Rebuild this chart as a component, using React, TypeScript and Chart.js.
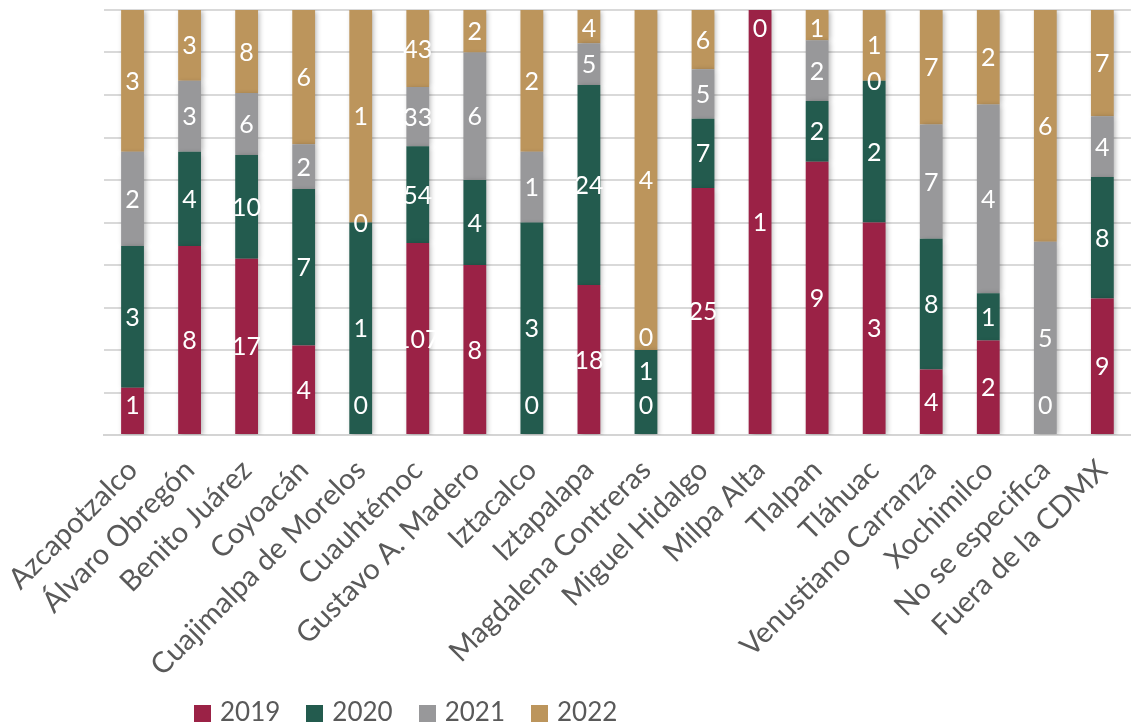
import React, { useEffect, useRef } from "react";
import { Chart, registerables } from "chart.js";

Chart.register(...registerables);

const categories = [
  "Azcapotzalco",
  "Álvaro Obregón",
  "Benito Juárez",
  "Coyoacán",
  "Cuajimalpa de Morelos",
  "Cuauhtémoc",
  "Gustavo A. Madero",
  "Iztacalco",
  "Iztapalapa",
  "Magdalena Contreras",
  "Miguel Hidalgo",
  "Milpa Alta",
  "Tlalpan",
  "Tláhuac",
  "Venustiano Carranza",
  "Xochimilco",
  "No se especifica",
  "Fuera de la CDMX",
];

const years = ["2019", "2020", "2021", "2022"];
const v2019: (number | null)[] = [1, 8, 17, 4, 0, 107, 8, 0, 18, 0, 25, 1, 9, 3, 4, 2, 0, 9];
const v2020: (number | null)[] = [3, 4, 10, 7, 1, 54, 4, 3, 24, 1, 7, null, 2, 2, 8, 1, null, 8];
const v2021: (number | null)[] = [2, 3, 6, 2, 0, 33, 6, 1, 5, 0, 5, null, 2, 0, 7, 4, 5, 4];
const v2022: (number | null)[] = [3, 3, 8, 6, 1, 43, 2, 2, 4, 4, 6, 0, 1, 1, 7, 2, 6, 7];
const colors = ["#9B2246", "#235B4E", "#98989A", "#BC955C"];

const FONT = "Lato, 'Noto Sans', sans-serif";

export default function App() {
  const ref = useRef<HTMLCanvasElement | null>(null);

  useEffect(() => {
    if (!ref.current) return;
    const series = [v2019, v2020, v2021, v2022];
    const totals = categories.map((_, i) =>
      series.reduce((s, arr) => s + (arr[i] ?? 0), 0)
    );
    const datasets = series.map((arr, k) => ({
      label: years[k],
      data: arr.map((v, i) => (v === null ? null : (v / totals[i]) * 100)),
      raw: arr,
      backgroundColor: colors[k],
      borderWidth: 0,
      barPercentage: 0.4,
      categoryPercentage: 1,
    }));

    const shadowPlugin = {
      id: "shadow",
      beforeDatasetsDraw(chart: any) {
        const ctx = chart.ctx;
        ctx.save();
        ctx.shadowColor = "rgba(0,0,0,0.28)";
        ctx.shadowBlur = 5;
        ctx.shadowOffsetX = 2;
        ctx.shadowOffsetY = 1;
      },
      afterDatasetsDraw(chart: any) {
        chart.ctx.restore();
      },
    };

    const labelPlugin = {
      id: "vlabels",
      afterDatasetsDraw(chart: any) {
        const ctx = chart.ctx;
        const area = chart.chartArea;
        ctx.save();
        ctx.fillStyle = "#ffffff";
        ctx.font = `25px ${FONT}`;
        ctx.textAlign = "center";
        ctx.textBaseline = "middle";
        categories.forEach((_, i) => {
          const items: { x: number; y: number; t: string }[] = [];
          chart.data.datasets.forEach((ds: any, k: number) => {
            const rawV = ds.raw[i];
            if (rawV === null || rawV === undefined) return;
            const el = chart.getDatasetMeta(k).data[i];
            if (!el) return;
            const yc = (el.y + el.base) / 2;
            items.push({ x: el.x, y: yc, t: String(rawV) });
          });
          items.forEach((it) => {
            it.y = Math.min(Math.max(it.y, area.top + 18), area.bottom - 30);
          });
          for (let j = 1; j < items.length; j++) {
            items[j].y = Math.min(items[j].y, items[j - 1].y - 34);
          }
          for (let j = items.length - 2; j >= 0; j--) {
            items[j].y = Math.max(items[j].y, items[j + 1].y + 34);
          }
          items.forEach((it) => ctx.fillText(it.t, it.x, it.y + 1));
        });
        ctx.restore();
      },
    };

    const chart = new Chart(ref.current, {
      type: "bar",
      data: { labels: categories, datasets: datasets as any },
      options: {
        animation: false,
        responsive: false,
        maintainAspectRatio: false,
        layout: { padding: { top: 10, right: 1, left: 0, bottom: 0 } },
        plugins: {
          legend: { display: false },
          tooltip: { enabled: false },
        },
        scales: {
          x: {
            stacked: true,
            grid: { display: false },
            border: { display: true, color: "#d4d4d4", width: 2 },
            ticks: {
              color: "#595959",
              font: { family: FONT, size: 29 },
              minRotation: 45,
              maxRotation: 45,
              autoSkip: false,
              padding: 10,
            },
            afterFit(scale: any) {
              scale.height = 289;
            },
          },
          y: {
            stacked: true,
            min: 0,
            max: 100,
            ticks: { display: false, stepSize: 10 },
            grid: { color: "#d9d9d9", lineWidth: 2, drawTicks: false },
            border: { display: false },
            afterFit(scale: any) {
              scale.width = 104;
            },
          },
        },
      },
      plugins: [shadowPlugin, labelPlugin],
    });
    return () => chart.destroy();
  }, []);

  return (
    <div style={{ position: "fixed", left: 0, top: 0, width: 1137, height: 724, background: "#fff" }}>
      <canvas ref={ref} width={1137} height={724} style={{ display: "block" }} />
      <div
        style={{
          position: "absolute",
          left: 194,
          top: 696,
          display: "flex",
          alignItems: "center",
          fontFamily: FONT,
          fontSize: 26,
          color: "#595959",
          lineHeight: "30px",
        }}
      >
        {years.map((y, k) => (
          <div key={y} style={{ display: "flex", alignItems: "center", marginRight: k < 3 ? 26 : 0 }}>
            <span
              style={{
                display: "inline-block",
                width: 17,
                height: 17,
                background: colors[k],
                marginRight: 9,
                marginTop: 4,
              }}
            />
            <span>{y}</span>
          </div>
        ))}
      </div>
    </div>
  );
}
